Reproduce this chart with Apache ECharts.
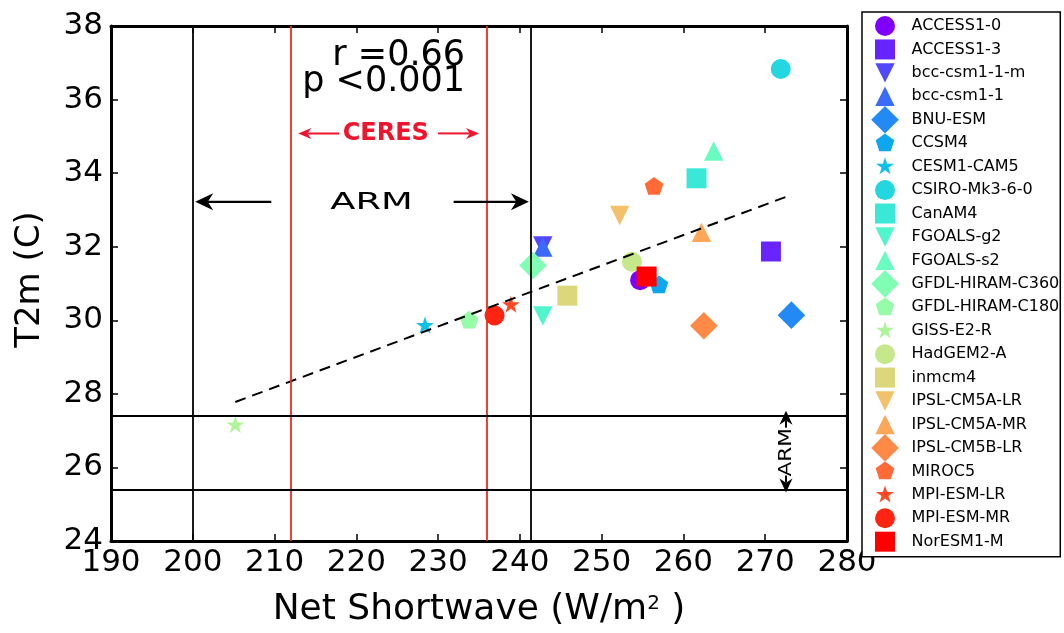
<!DOCTYPE html>
<html>
<head>
<meta charset="utf-8">
<script src="https://cdn.jsdelivr.net/npm/echarts@6/dist/echarts.min.js"></script>
<style>
  html, body { margin: 0; padding: 0; background: #fff; }
  #chart { width: 1064px; height: 633px; }
</style>
</head>
<body>
<div id="chart"></div>
<script>
// CMIP5 models: net shortwave at the surface vs 2 m air temperature
const models = [
  'ACCESS1-0', 'ACCESS1-3', 'bcc-csm1-1-m', 'bcc-csm1-1', 'BNU-ESM', 'CCSM4',
  'CESM1-CAM5', 'CSIRO-Mk3-6-0', 'CanAM4', 'FGOALS-g2', 'FGOALS-s2',
  'GFDL-HIRAM-C360', 'GFDL-HIRAM-C180', 'GISS-E2-R', 'HadGEM2-A', 'inmcm4',
  'IPSL-CM5A-LR', 'IPSL-CM5A-MR', 'IPSL-CM5B-LR', 'MIROC5', 'MPI-ESM-LR',
  'MPI-ESM-MR', 'NorESM1-M'
];
const shortwave = [
  254.7, 270.7, 242.8, 242.8, 273.2, 257.0,
  228.4, 271.9, 261.6, 242.8, 263.7,
  241.6, 233.8, 205.2, 253.7, 245.8,
  252.2, 262.2, 262.5, 256.4, 238.9,
  236.9, 255.5
];
const t2m = [
  31.09, 31.87, 32.02, 31.99, 30.14, 30.95,
  29.85, 36.83, 33.86, 30.12, 34.60,
  31.49, 29.99, 27.14, 31.59, 30.67,
  32.85, 32.39, 29.85, 33.63, 30.41,
  30.13, 31.19
];
const markerKinds = [
  'circle', 'square', 'down', 'up', 'diamond', 'pentagon', 'star',
  'circle', 'square', 'down', 'up', 'diamond', 'pentagon', 'star',
  'circle', 'square', 'down', 'up', 'diamond', 'pentagon', 'star',
  'circle', 'square'
];
const colors = [
  '#8000ff', '#6824fe', '#5148fc', '#3a6af9', '#238af5', '#0ca7ef',
  '#0cc1e8', '#23d7e0', '#3ae8d7', '#51f5cc', '#68fcc1', '#80ffb4',
  '#97fca7', '#aef599', '#c5e88a', '#dcd77a', '#f3c16a', '#ffa759',
  '#ff8a48', '#ff6a36', '#ff4824', '#ff2412', '#ff0000'
];

// Observational ranges
const armShortwave = [200, 241.3];
const ceresShortwave = [212, 236];
const armT2m = [25.4, 27.4];

// Least-squares fit end points
const fitShortwave = [205.2, 272.6];
const fitT2m = [27.78, 33.36];

const statsText = ['r =0.66', 'p <0.001'];

// Marker outlines drawn in a fixed 28x28 box so every symbol shares one scale
const BOX = 'M-14,-14 M14,14 ';
function star(R) {
  const r = R * 0.381966, pts = [];
  for (let k = 0; k < 10; k++) {
    const a = (-90 + 36 * k) * Math.PI / 180, rad = k % 2 ? r : R;
    pts.push((rad * Math.cos(a)).toFixed(3) + ',' + (rad * Math.sin(a)).toFixed(3));
  }
  return 'M' + pts.join(' L') + ' Z';
}
function pentagon(R) {
  const pts = [];
  for (let k = 0; k < 5; k++) {
    const a = (-90 + 72 * k) * Math.PI / 180;
    pts.push((R * Math.cos(a)).toFixed(3) + ',' + (R * Math.sin(a)).toFixed(3));
  }
  return 'M' + pts.join(' L') + ' Z';
}
const SYMBOLS = {
  circle: 'path://' + BOX + 'M-10,0 A10,10 0 1,1 10,0 A10,10 0 1,1 -10,0 Z',
  square: 'path://' + BOX + 'M-10,-10 L10,-10 L10,10 L-10,10 Z',
  down: 'path://' + BOX + 'M-9.7,-9.7 L9.7,-9.7 L0,9.7 Z',
  up: 'path://' + BOX + 'M0,-9.7 L9.7,9.7 L-9.7,9.7 Z',
  diamond: 'path://' + BOX + 'M0,-13.8 L13.8,0 L0,13.8 L-13.8,0 Z',
  pentagon: 'path://' + BOX + pentagon(9.8),
  star: 'path://' + BOX + star(9.4)
};

const FONT = '"DejaVu Sans", "Liberation Sans", sans-serif';

const modelSeries = models.map((name, i) => ({
  type: 'scatter',
  name: name,
  data: [[shortwave[i], t2m[i]]],
  symbol: SYMBOLS[markerKinds[i]],
  symbolSize: 28,
  itemStyle: { color: colors[i], opacity: 1 },
  emphasis: { disabled: true },
  z: 3
}));

const refLineSeries = {
  type: 'line',
  name: 'ranges',
  data: [],
  silent: true,
  z: 1,
  markLine: {
    silent: true,
    symbol: ['none', 'none'],
    label: { show: false },
    emphasis: { disabled: true },
    data: [
      ...armShortwave.map(v => ({ xAxis: v, lineStyle: { color: '#000', width: 1.8, type: 'solid' } })),
      ...ceresShortwave.map(v => ({ xAxis: v, lineStyle: { color: '#ee2c1c', width: 1.8, type: 'solid' } })),
      ...armT2m.map(v => ({ yAxis: v, lineStyle: { color: '#000', width: 1.8, type: 'solid' } }))
    ]
  }
};

const fitSeries = {
  type: 'line',
  name: 'fit',
  data: fitShortwave.map((x, i) => [x, fitT2m[i]]),
  showSymbol: false,
  symbol: 'none',
  silent: true,
  lineStyle: { color: '#000', width: 2, type: [11, 7] },
  z: 4
};

const frameAxis = {
  axisLine: { show: true, onZero: false, lineStyle: { color: '#000', width: 3 } },
  axisTick: { show: true, inside: true, length: 7, lineStyle: { color: '#000', width: 1.5 } },
  splitLine: { show: false }
};

const chart = echarts.init(document.getElementById('chart'), null, { renderer: 'canvas' });

const option = {
  animation: false,
  backgroundColor: '#fff',
  grid: { left: 111, right: 217, top: 26, bottom: 89, containLabel: false },
  xAxis: [
    Object.assign({
      type: 'value', min: 190, max: 280, interval: 10, position: 'bottom',
      axisLabel: { fontSize: 31, fontFamily: FONT, color: '#000', margin: 6 },
      name: 'Net Shortwave (W/m{s|2} )',
      nameLocation: 'middle',
      nameGap: 51,
      nameTextStyle: {
        fontSize: 36, fontFamily: FONT, color: '#000',
        rich: { s: { fontSize: 20, fontFamily: FONT, color: '#000', verticalAlign: 'top', padding: [2, 0, 0, 0] } }
      }
    }, frameAxis),
    Object.assign({
      type: 'value', min: 190, max: 280, interval: 10, position: 'top',
      axisLabel: { show: false }
    }, frameAxis)
  ],
  yAxis: [
    Object.assign({
      type: 'value', min: 24, max: 38, interval: 2, position: 'left',
      axisLabel: { fontSize: 31, fontFamily: FONT, color: '#000', margin: 8 },
      name: 'T2m (C)',
      nameLocation: 'middle',
      nameGap: 64,
      nameTextStyle: { fontSize: 34, fontFamily: FONT, color: '#000', padding: [0, 0, 0, 8] }
    }, frameAxis),
    Object.assign({
      type: 'value', min: 24, max: 38, interval: 2, position: 'right',
      axisLabel: { show: false }
    }, frameAxis)
  ],
  legend: {
    orient: 'vertical',
    left: 862,
    top: 12,
    itemWidth: 43,
    itemHeight: 28,
    itemGap: -4.56,
    padding: [0, 1, 1, 9],
    borderColor: '#000',
    borderWidth: 1.5,
    backgroundColor: '#fff',
    selectedMode: false,
    textStyle: { fontSize: 16, fontFamily: FONT, color: '#000' },
    data: models
  },
  series: [refLineSeries, ...modelSeries, fitSeries]
};

chart.setOption(option);

// Annotations placed in data coordinates
function px(x, y) {
  return chart.convertToPixel({ gridIndex: 0 }, [x, y]);
}
function arrow(from, to, color, width, headLen, headHalf) {
  const [x1, y1] = px(from[0], from[1]);
  const [x2, y2] = px(to[0], to[1]);
  const dx = x2 - x1, dy = y2 - y1, len = Math.hypot(dx, dy);
  const ux = dx / len, uy = dy / len, nx = -uy, ny = ux;
  const bx = x2 - ux * headLen, by = y2 - uy * headLen;
  const notch = [x2 - ux * headLen * 0.7, y2 - uy * headLen * 0.7];
  return [
    { type: 'line', silent: true, z: 10,
      shape: { x1: x1, y1: y1, x2: notch[0], y2: notch[1] },
      style: { stroke: color, lineWidth: width } },
    { type: 'polygon', silent: true, z: 10,
      shape: { points: [[x2, y2], [bx + nx * headHalf, by + ny * headHalf], notch, [bx - nx * headHalf, by - ny * headHalf]] },
      style: { fill: color } }
  ];
}
function label(text, at, font, color, align, extra) {
  const [x, y] = px(at[0], at[1]);
  return Object.assign({
    type: 'text', silent: true, z: 10, x: x, y: y,
    style: { text: text, font: font, fill: color, align: align, verticalAlign: 'middle' }
  }, extra || {});
}

const ceresRed = '#f0142c';
const graphics = [
  label(statsText[0], [233.3, 37.18], '35px ' + FONT, '#000', 'right'),
  label(statsText[1], [233.3, 36.49], '35px ' + FONT, '#000', 'right'),
  label('CERES', [223.6, 35.07], 'bold 24px ' + FONT, ceresRed, 'center'),
  ...arrow([217.9, 35.08], [212.9, 35.08], ceresRed, 2, 13, 5.5),
  ...arrow([230.0, 35.08], [235.0, 35.08], ceresRed, 2, 13, 5.5),
  label('ARM', [221.85, 33.19], '23px ' + FONT, '#000', 'center', { scaleX: 1.6 }),
  ...arrow([209.6, 33.22], [200.3, 33.22], '#000', 2.2, 18, 8.5),
  ...arrow([231.9, 33.22], [241.1, 33.22], '#000', 2.2, 18, 8.5),
  label('ARM', [272.54, 26.41], '18px ' + FONT, '#000', 'center', { rotation: Math.PI / 2, scaleX: 1.2 }),
  ...arrow([272.54, 27.08], [272.54, 27.54], '#000', 2, 14, 6.5),
  ...arrow([272.54, 25.78], [272.54, 25.32], '#000', 2, 14, 6.5)
];

chart.setOption({ graphic: graphics });
</script>
</body>
</html>
